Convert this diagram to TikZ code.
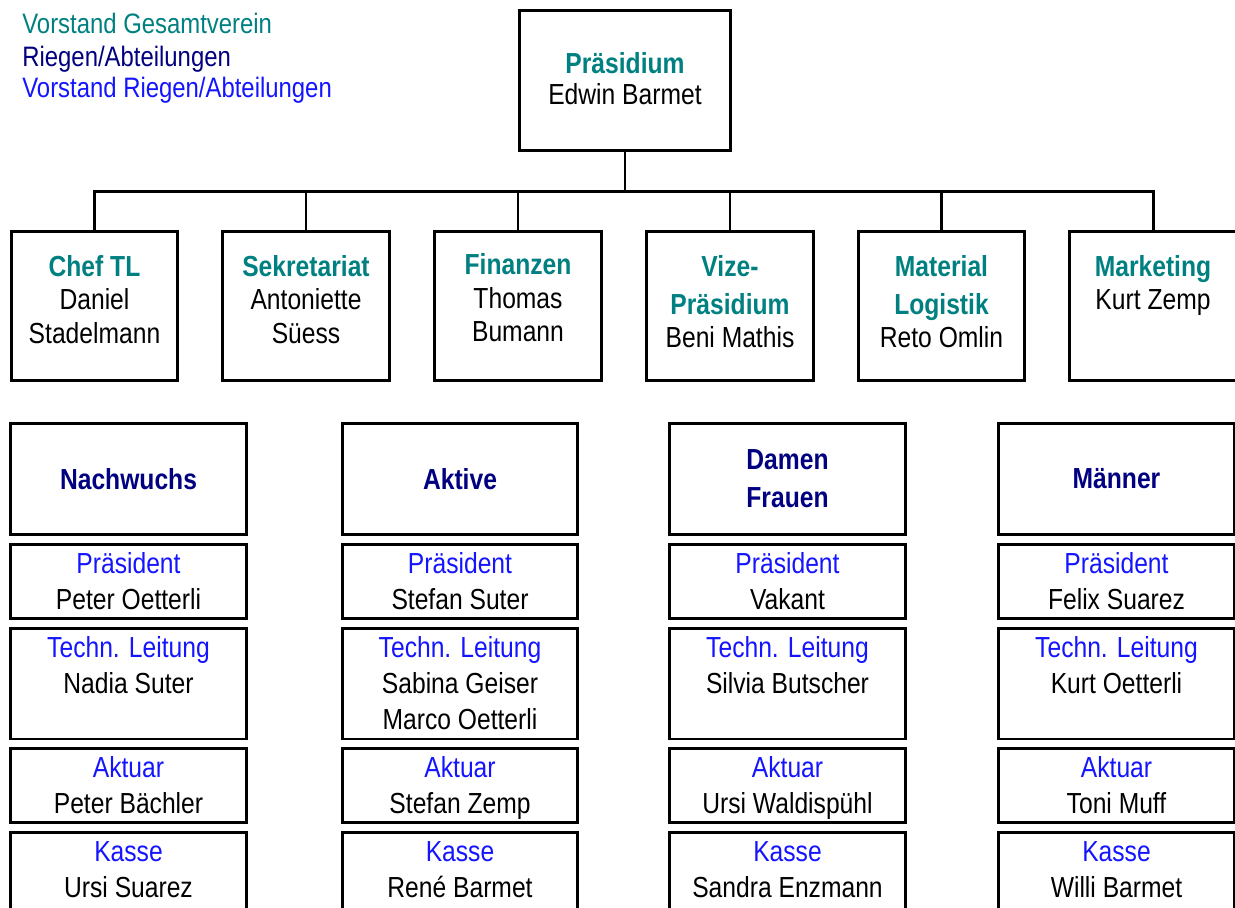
\documentclass[tikz,border=0pt]{standalone}
\usepackage{fontspec}
\setmainfont{Liberation Sans}[FakeStretch=0.85]
\usetikzlibrary{positioning}

\definecolor{vorstand}{RGB}{0,128,128}
\definecolor{riege}{RGB}{0,0,128}
\definecolor{rvorstand}{RGB}{20,20,255}

\newcommand{\hs}{\rule{0pt}{16pt}}
\newcommand{\gv}[1]{\textcolor{vorstand}{\bfseries #1}}
\newcommand{\rv}[1]{\textcolor{rvorstand}{#1}}

\begin{document}
\begin{tikzpicture}[x=0.02cm, y=-0.02cm,
    box/.style={draw, line width=1.7pt, inner sep=0pt},
    ressort/.style={box, minimum width=3.34cm, minimum height=3cm},
    riegenbox/.style={box, minimum width=4.72cm, minimum height=2.23cm},
    amt/.style={box, minimum width=4.72cm, minimum height=1.49cm},
    line/.style={line width=1.7pt},
    txt/.style={anchor=north, inner sep=0pt, align=center, font=\fontsize{16.5}{20.5}\selectfont},
    rtxt/.style={txt, font=\fontsize{16.5}{19}\selectfont},
    legend/.style={anchor=base west, inner sep=0pt, font=\fontsize{16}{19}\selectfont}]

    \useasboundingbox (0,0) rectangle (1235,907);
    \clip (0,0) rectangle (1235,907);

    % Legende
    \node[legend, text=vorstand] (leg1) at (22,33) {Vorstand Gesamtverein};
    \node[legend, text=riege] (leg2) at (22,66) {Riegen/Abteilungen};
    \node[legend, text=rvorstand] (leg3) at (22,97) {Vorstand Riegen/Abteilungen};

    % Praesidium
    \node[box, minimum width=4.24cm, minimum height=2.82cm] (praes) at (625,80.5) {};
    \node[txt, font=\fontsize{16.5}{17.5}\selectfont, below=20.8pt of praes.north] (praes-t)
        {\hs\gv{Präsidium}\\ Edwin Barmet};

    % Ressorts Gesamtverein
    \node[ressort] (chef) at (94.5,306) {};
    \node[ressort] (sekr) at (306,306) {};
    \node[ressort] (fin) at (518,306) {};
    \node[ressort] (vize) at (730,306) {};
    \node[ressort] (mat) at (941.5,306) {};
    \node[ressort] (mark) at (1153,306) {};

    \node[rtxt, below=10.5pt of chef.north] (chef-t) {\hs\gv{Chef TL}\\ Daniel\\ Stadelmann};
    \node[rtxt, below=10.5pt of sekr.north] (sekr-t) {\hs\gv{Sekretariat}\\ Antoniette\\ Süess};
    \node[rtxt, below=9.5pt of fin.north] (fin-t) {\hs\gv{Finanzen}\\ Thomas\\ Bumann};
    \node[rtxt, below=10.5pt of vize.north] (vize-t) {\hs\gv{Vize-}\\[2.5pt] \gv{Präsidium}\\ Beni Mathis};
    \node[rtxt, below=10.5pt of mat.north] (mat-t) {\hs\gv{Material}\\[2.5pt] \gv{Logistik}\\ Reto Omlin};
    \node[rtxt, below=10.5pt of mark.north] (mark-t) {\hs\gv{Marketing}\\ Kurt Zemp};

    % Verbindungen
    \coordinate (bus) at (0,191.5);
    \draw[line] (praes.south) -- (praes.south |- bus);
    \draw[line] (chef.north) |- (bus -| mark.north) -- (mark.north);
    \foreach \n in {sekr,fin,vize,mat}
        \draw[line] (\n.north) -- (\n.north |- bus);

    % Riegen mit Vorstand
    \foreach \c/\x in {nach/128.5, akt/460, dam/787.5, maen/1116.5} {
        \node[riegenbox] (\c) at (\x,478.75) {};
        \node[amt] (\c-p) at (\x,581.25) {};
        \node[amt, minimum height=2.22cm] (\c-t) at (\x,683.5) {};
        \node[amt] (\c-a) at (\x,785.25) {};
        \node[amt, minimum height=1.8cm] (\c-k) at (\x,877) {};
    }

    \node[align=center, text=riege, font=\fontsize{16.5}{22}\selectfont\bfseries] (nach-h) at (nach) {Nachwuchs};
    \node[align=center, text=riege, font=\fontsize{16.5}{22}\selectfont\bfseries] (akt-h) at (akt) {Aktive};
    \node[align=center, text=riege, font=\fontsize{16.5}{22}\selectfont\bfseries] (dam-h) at (dam) {Damen\\ Frauen};
    \node[align=center, text=riege, font=\fontsize{16.5}{22}\selectfont\bfseries] (maen-h) at (maen) {Männer};

    \node[txt, below=1.4pt of nach-p.north] (nach-pt) {\hs\rv{Präsident}\\ Peter Oetterli};
    \node[txt, below=1.4pt of nach-t.north] (nach-tt) {\hs\rv{Techn. Leitung}\\ Nadia Suter};
    \node[txt, below=1.4pt of nach-a.north] (nach-at) {\hs\rv{Aktuar}\\ Peter Bächler};
    \node[txt, below=1.4pt of nach-k.north] (nach-kt) {\hs\rv{Kasse}\\ Ursi Suarez};

    \node[txt, below=1.4pt of akt-p.north] (akt-pt) {\hs\rv{Präsident}\\ Stefan Suter};
    \node[txt, below=1.4pt of akt-t.north] (akt-tt) {\hs\rv{Techn. Leitung}\\ Sabina Geiser\\ Marco Oetterli};
    \node[txt, below=1.4pt of akt-a.north] (akt-at) {\hs\rv{Aktuar}\\ Stefan Zemp};
    \node[txt, below=1.4pt of akt-k.north] (akt-kt) {\hs\rv{Kasse}\\ René Barmet};

    \node[txt, below=1.4pt of dam-p.north] (dam-pt) {\hs\rv{Präsident}\\ Vakant};
    \node[txt, below=1.4pt of dam-t.north] (dam-tt) {\hs\rv{Techn. Leitung}\\ Silvia Butscher};
    \node[txt, below=1.4pt of dam-a.north] (dam-at) {\hs\rv{Aktuar}\\ Ursi Waldispühl};
    \node[txt, below=1.4pt of dam-k.north] (dam-kt) {\hs\rv{Kasse}\\ Sandra Enzmann};

    \node[txt, below=1.4pt of maen-p.north] (maen-pt) {\hs\rv{Präsident}\\ Felix Suarez};
    \node[txt, below=1.4pt of maen-t.north] (maen-tt) {\hs\rv{Techn. Leitung}\\ Kurt Oetterli};
    \node[txt, below=1.4pt of maen-a.north] (maen-at) {\hs\rv{Aktuar}\\ Toni Muff};
    \node[txt, below=1.4pt of maen-k.north] (maen-kt) {\hs\rv{Kasse}\\ Willi Barmet};
\end{tikzpicture}
\end{document}
